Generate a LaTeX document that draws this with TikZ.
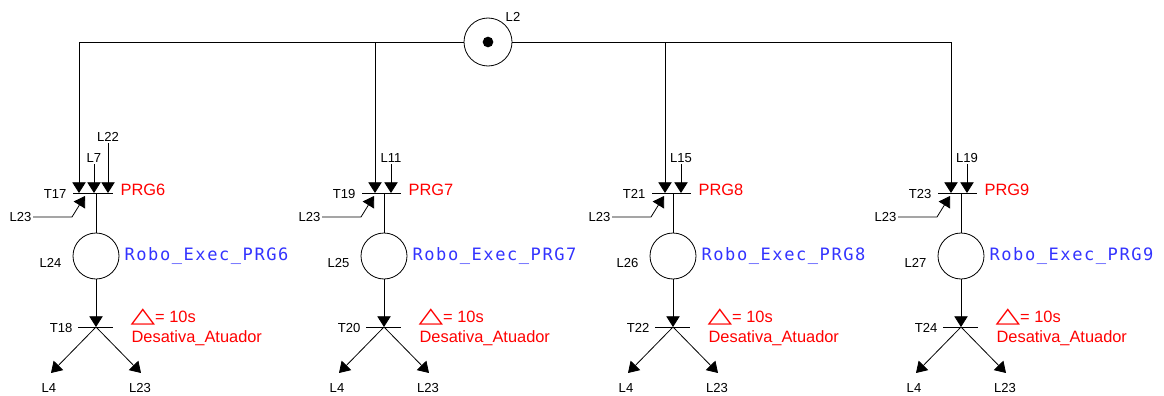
\documentclass[tikz,border=0pt]{standalone}
\usepackage{fontspec}
\setmainfont{Liberation Sans}
\newfontfamily\robofont[LetterSpace=9]{DejaVu Sans Mono}
\newfontfamily\symfont{DejaVu Sans}
\usepackage{tikz}
\usetikzlibrary{arrows.meta,calc}
\definecolor{cPrg}{HTML}{FF0000}
\definecolor{cRobo}{HTML}{3333FF}
\newcommand{\deltasym}{\scalebox{1.5}[1.0]{\symfont\fontsize{16}{16}\selectfont △}}
\tikzset{
  lbl/.style   = {font=\fontsize{9.8}{11}\selectfont, inner sep=1pt},
  prg/.style   = {font=\fontsize{12.3}{14}\selectfont, text=cPrg, inner sep=1pt},
  robo/.style  = {font=\robofont\fontsize{12.8}{14}\selectfont, text=cRobo, inner sep=1pt},
  place/.style = {circle, draw, line width=0.6pt, inner sep=0pt, minimum size=34.5pt},
  token/.style = {circle, fill, inner sep=0pt, minimum size=8pt},
  arc/.style   = {-{Triangle[length=8pt,width=10pt]}, line width=0.6pt},
  tbar/.style  = {line width=0.6pt},
}

\begin{document}
\begin{tikzpicture}[x=0.75pt, y=-0.75pt]
  \useasboundingbox (0,0) rectangle (1164,396);

  % top place
  \node[place, minimum size=36pt] (p2) at (488,42) {};
  \node[token] (tok) at (p2) {};
  \node[lbl] (lp2) at (513,17) {L2};

  % four branches: base x / out x / bar left / bar right / trans in / trans out / place / prog
  \foreach \b/\o/\l/\r/\tk/\tb/\pl/\n in {79/96/73/113/17/18/24/6,
      375/384/362/401/19/20/25/7, 665/673/652/691/21/22/26/8,
      951/961/938/977/23/24/27/9} {
    \coordinate (in\tk) at (\b,193);
    \coordinate (t\tk) at (\o,193);
    \draw[tbar] (\l,193) -- (\r,193);
    \draw[arc] (p2) -| (in\tk);
    \node[lbl, anchor=east] (lt\tk) at (\l-5,194) {T\tk};
    \node[prg, anchor=west] (n\tk) at (\r+6,190) {PRG\n};
    % side input L23
    \node[lbl, anchor=east] (a\tk) at (\l-40,217) {L23};
    \coordinate (k\tk) at (\l-1,217);
    \coordinate (e\tk) at (\l+12,196);
    \draw[arc] (a\tk.east) -- (k\tk) -- (e\tk);
    % place
    \node[place] (p\pl) at (\o,256) {};
    \node[lbl, anchor=east] (lp\pl) at (\o-33,263) {L\pl};
    \node[robo, anchor=west] (r\pl) at (\o+27,256) {Robo\_Exec\_PRG\n};
    \draw[tbar] (t\tk) -- (p\pl);
    % timed transition
    \coordinate (u\tb) at (\o,327);
    \draw[tbar] (\o-18,327) -- (\o+17,327);
    \draw[arc] (p\pl) -- (u\tb);
    \node[lbl, anchor=east] (lt\tb) at (\o-22,328) {T\tb};
    \node[prg, anchor=west] (d\tb) at (\o+33,317) {\deltasym= 10s};
    \node[prg, anchor=west] (da\tb) at (\o+34,338) {Desativa\_Atuador};
    \node[lbl] (x\tb) at (\o-47,388) {L4};
    \node[lbl] (y\tb) at (\o+44,388) {L23};
    \coordinate (xe\tb) at (\o-45,373);
    \coordinate (ye\tb) at (\o+45,373);
    \draw[arc] (u\tb) -- (xe\tb);
    \draw[arc] (u\tb) -- (ye\tb);
  }

  % extra inputs
  \node[lbl] (l7) at (94,158) {L7};
  \node[lbl] (l22) at (108,137) {L22};
  \node[lbl] (l11) at (391,158) {L11};
  \node[lbl] (l15) at (681,158) {L15};
  \node[lbl] (l19) at (967,158) {L19};
  \draw[arc] (l7.south) -- (l7.south |- t17);
  \draw[arc] (l22.south) -- (l22.south |- t17);
  \draw[arc] (l11.south) -- (l11.south |- t19);
  \draw[arc] (l15.south) -- (l15.south |- t21);
  \draw[arc] (l19.south) -- (l19.south |- t23);
\end{tikzpicture}
\end{document}
